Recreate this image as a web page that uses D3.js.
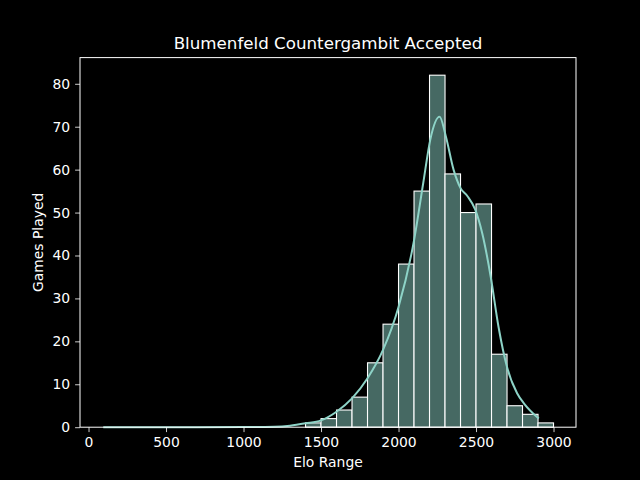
<!DOCTYPE html>
<html>
<head>
<meta charset="utf-8">
<script src="https://cdn.jsdelivr.net/npm/d3@7"></script>
<style>
  body { margin: 0; background: #000; }
  text { font-family: "DejaVu Sans", sans-serif; fill: #fff; }
</style>
</head>
<body>
<div id="chart"></div>
<script>
// histogram bins (left edges) and counts
var binStarts = [1400, 1500, 1600, 1700, 1800, 1900, 2000, 2100, 2200, 2300, 2400, 2500, 2600, 2700, 2800, 2900];
var binCounts = [1, 2, 4, 7, 15, 24, 38, 55, 82, 59, 50, 52, 17, 5, 3, 1];
var binWidth = 100;

// kde curve
var kdeX = [95, 400, 700, 1000, 1200, 1300, 1400, 1500, 1600, 1700, 1800, 1900, 2000, 2100, 2160, 2205, 2265, 2305, 2355, 2400, 2445, 2495, 2540, 2595, 2645, 2700, 2765, 2810, 2905];
var kdeY = [0, 0, 0, 0.02, 0.1, 0.35, 0.9, 1.6, 3.6, 6.7, 11.4, 18, 28, 43.5, 57, 67, 72.3, 67.8, 60, 55.7, 53.8, 50.7, 45.2, 35, 23.4, 14, 7.9, 5.5, 2];

var xTicks = [0, 500, 1000, 1500, 2000, 2500, 3000];
var yTicks = [0, 10, 20, 30, 40, 50, 60, 70, 80];

var W = 640, H = 480;
var m = {left: 80, right: 576, top: 57.6, bottom: 427.2};

var svg = d3.select("#chart").append("svg")
    .attr("width", W).attr("height", H)
    .style("background", "#000");

var x = d3.scaleLinear().domain([-55, 3145]).range([m.left, m.right]);
var y = d3.scaleLinear().domain([0, 86.1]).range([m.bottom, m.top]);

// bars
svg.append("g").selectAll("rect")
  .data(binStarts)
  .enter().append("rect")
    .attr("x", (d) => x(d))
    .attr("y", (d, i) => y(binCounts[i]))
    .attr("width", (d) => x(d + binWidth) - x(d))
    .attr("height", (d, i) => y(0) - y(binCounts[i]))
    .attr("fill", "#466963")
    .attr("stroke", "#fff")
    .attr("stroke-width", 1.1);

// kde line
var line = d3.line()
    .x((d) => x(d))
    .y((d, i) => y(kdeY[i]))
    .curve(d3.curveMonotoneX);
svg.append("path")
    .attr("d", line(kdeX))
    .attr("fill", "none")
    .attr("stroke", "#8dd3c7")
    .attr("stroke-width", 2);

// axes
var xAxis = svg.append("g")
    .attr("transform", "translate(0," + m.bottom + ")")
    .call(d3.axisBottom(x).tickValues(xTicks).tickFormat(d3.format("d"))
      .tickSizeInner(4.9).tickSizeOuter(0).tickPadding(4.9));
var yAxis = svg.append("g")
    .attr("transform", "translate(" + m.left + ",0)")
    .call(d3.axisLeft(y).tickValues(yTicks).tickFormat(d3.format("d"))
      .tickSizeInner(4.9).tickSizeOuter(0).tickPadding(4.9));

[xAxis, yAxis].forEach((a) => {
  a.select(".domain").remove();
  a.selectAll("line").attr("stroke", "#fff").attr("stroke-width", 0.8);
  a.selectAll("text").style("font-size", "13.9px").attr("fill", "#fff");
});

// frame
svg.append("rect")
    .attr("x", m.left).attr("y", m.top)
    .attr("width", m.right - m.left).attr("height", m.bottom - m.top)
    .attr("fill", "none").attr("stroke", "#fff").attr("stroke-width", 1);

// labels
svg.append("text")
    .attr("x", (m.left + m.right) / 2).attr("y", 49)
    .attr("text-anchor", "middle")
    .style("font-size", "16.7px")
    .text("Blumenfeld Countergambit Accepted");
svg.append("text")
    .attr("x", (m.left + m.right) / 2).attr("y", 467)
    .attr("text-anchor", "middle")
    .style("font-size", "13.9px")
    .text("Elo Range");
svg.append("text")
    .attr("transform", "translate(43," + ((m.top + m.bottom) / 2) + ") rotate(-90)")
    .attr("text-anchor", "middle")
    .style("font-size", "13.9px")
    .text("Games Played");
</script>
</body>
</html>
